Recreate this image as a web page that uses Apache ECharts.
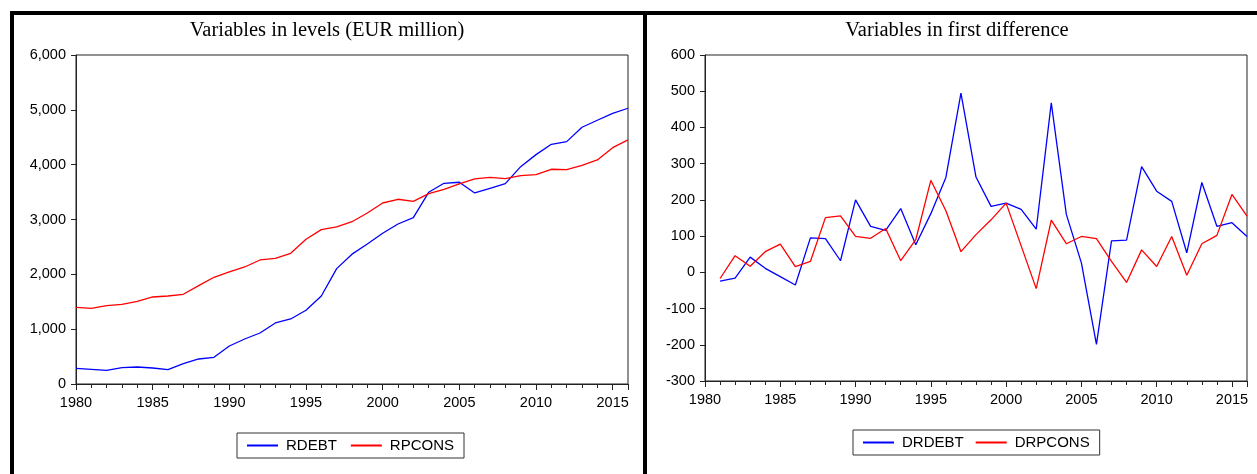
<!DOCTYPE html>
<html><head><meta charset="utf-8">
<script src="https://cdn.jsdelivr.net/npm/echarts@6/dist/echarts.min.js"></script>
<style>html,body{margin:0;padding:0;background:#fff}#c{width:1257px;height:474px}</style>
</head><body><div id="c"></div>
<script>
var levelYears = [1980,1981,1982,1983,1984,1985,1986,1987,1988,1989,1990,1991,1992,1993,1994,1995,1996,1997,1998,1999,2000,2001,2002,2003,2004,2005,2006,2007,2008,2009,2010,2011,2012,2013,2014,2015,2016];
var rdebt = [286,268,250,298,310,292,261,371,456,486,693,821,930,1113,1186,1344,1605,2104,2368,2553,2748,2918,3034,3496,3660,3679,3484,3569,3654,3964,4183,4372,4420,4682,4810,4937,5029];
var rpcons = [1399,1381,1428,1453,1508,1587,1605,1636,1793,1946,2043,2134,2262,2292,2383,2639,2815,2864,2960,3119,3301,3369,3332,3471,3551,3648,3739,3770,3745,3800,3818,3916,3909,3989,4086,4310,4451];
var diffYears = [1981,1982,1983,1984,1985,1986,1987,1988,1989,1990,1991,1992,1993,1994,1995,1996,1997,1998,1999,2000,2001,2002,2003,2004,2005,2006,2007,2008,2009,2010,2011,2012,2013,2014,2015,2016];
var drdebt = [-24,-16,42,11,-12,-35,95,93,32,200,127,116,176,76,162,262,495,263,182,191,174,119,468,160,26,-199,87,89,292,224,196,54,248,127,137,99];
var drpcons = [-17,46,17,57,78,16,30,151,156,99,94,121,32,90,254,170,57,104,145,191,73,-45,144,79,99,93,30,-28,62,16,99,-8,79,102,215,155];
var titles = ['Variables in levels (EUR million)', 'Variables in first difference'];
var names = ['RDEBT','RPCONS','DRDEBT','DRPCONS'];

function pairs(xs, ys){ return xs.map(function(x,i){return [x, ys[i]];}); }

var sans = 'Liberation Sans, Arial, sans-serif';
var axisCol = '#222';
function xMain(gi){
  return {type:'value', gridIndex:gi, position:'bottom', min:1980, max:2016, interval:1,
    axisLine:{onZero:false, lineStyle:{color:axisCol,width:1}},
    axisTick:{show:true, length:4, lineStyle:{color:axisCol}},
    splitLine:{show:false},
    axisLabel:{margin:11, color:'#000', fontFamily:sans, fontSize:14.5,
      formatter:function(v){return (v%5===0 && v<2016)? String(v):'';}}
  };
}
function xMajor(gi){
  return {type:'value', gridIndex:gi, position:'bottom', offset:0, min:1980, max:2016, interval:5,
    axisLine:{show:false, onZero:false}, axisTick:{show:true, length:6, lineStyle:{color:axisCol}},
    axisLabel:{show:false}, splitLine:{show:false}};
}
var chart = echarts.init(document.getElementById('c'), null, {renderer:'canvas'});
chart.setOption({
  animation:false,
  backgroundColor:'#fff',
  title:[
    {text:titles[0], left:327, top:20, textAlign:'center', padding:0,
     textStyle:{fontFamily:'Liberation Serif, Times New Roman, serif', fontSize:20.5, fontWeight:'normal', color:'#000'}},
    {text:titles[1], left:957, top:20, textAlign:'center', padding:0,
     textStyle:{fontFamily:'Liberation Serif, Times New Roman, serif', fontSize:20.5, fontWeight:'normal', color:'#000'}}
  ],
  grid:[
    {left:76, top:55, width:552, height:329, show:true, borderColor:axisCol, borderWidth:1, backgroundColor:'transparent'},
    {left:705, top:55, width:542, height:326, show:true, borderColor:axisCol, borderWidth:1, backgroundColor:'transparent'}
  ],
  xAxis:[xMain(0), xMajor(0), xMain(1), xMajor(1)],
  yAxis:[
    {type:'value', gridIndex:0, min:0, max:6000, interval:1000,
     axisLine:{show:true, onZero:false, lineStyle:{color:axisCol}}, axisTick:{show:true, length:5, lineStyle:{color:axisCol}},
     splitLine:{show:false},
     axisLabel:{margin:10, color:'#000', fontFamily:sans, fontSize:14.5, padding:[0,0,6,0],
       formatter:function(v){return v.toLocaleString('en-US');}}},
    {type:'value', gridIndex:1, min:-300, max:600, interval:100,
     axisLine:{show:true, onZero:false, lineStyle:{color:axisCol}}, axisTick:{show:true, length:5, lineStyle:{color:axisCol}},
     splitLine:{show:false},
     axisLabel:{margin:10, color:'#000', fontFamily:sans, fontSize:14.5, padding:[0,0,6,0]}}
  ],
  legend:[
    {data:[names[0],names[1]], left:237, top:433, orient:'horizontal', padding:[5,10,5,10],
     borderColor:'#333', borderWidth:1, icon:'rect', itemWidth:31, itemHeight:2, itemGap:14,
     textStyle:{fontFamily:sans, fontSize:15, color:'#000', padding:[0,0,0,3]}},
    {data:[names[2],names[3]], left:853, top:430, orient:'horizontal', padding:[5,10,5,10],
     borderColor:'#333', borderWidth:1, icon:'rect', itemWidth:31, itemHeight:2, itemGap:12,
     textStyle:{fontFamily:sans, fontSize:15, color:'#000', padding:[0,0,0,3]}}
  ],
  series:[
    {name:names[0], type:'line', xAxisIndex:0, yAxisIndex:0, data:pairs(levelYears, rdebt), showSymbol:false, symbol:'none', lineStyle:{color:'#0000ff', width:1.3}, itemStyle:{color:'#0000ff'}},
    {name:names[1], type:'line', xAxisIndex:0, yAxisIndex:0, data:pairs(levelYears, rpcons), showSymbol:false, symbol:'none', lineStyle:{color:'#ff0000', width:1.3}, itemStyle:{color:'#ff0000'}},
    {name:names[2], type:'line', xAxisIndex:2, yAxisIndex:1, data:pairs(diffYears, drdebt), showSymbol:false, symbol:'none', lineStyle:{color:'#0000ff', width:1.3}, itemStyle:{color:'#0000ff'}},
    {name:names[3], type:'line', xAxisIndex:2, yAxisIndex:1, data:pairs(diffYears, drpcons), showSymbol:false, symbol:'none', lineStyle:{color:'#ff0000', width:1.3}, itemStyle:{color:'#ff0000'}}
  ],
  graphic:[
    {type:'rect', shape:{x:10, y:11, width:1247, height:4}, style:{fill:'#000'}, silent:true},
    {type:'rect', shape:{x:10, y:11, width:4, height:463}, style:{fill:'#000'}, silent:true},
    {type:'rect', shape:{x:643, y:11, width:4, height:463}, style:{fill:'#000'}, silent:true}
  ]
});
</script></body></html>
